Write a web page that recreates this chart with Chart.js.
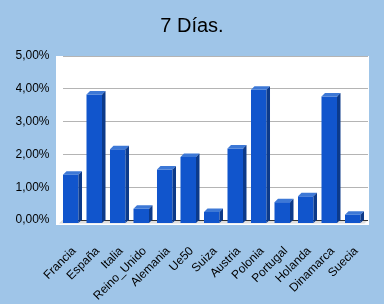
<!DOCTYPE html>
<html>
<head>
<meta charset="utf-8">
<script src="https://cdn.jsdelivr.net/npm/chart.js@4"></script>
<style>
  html, body { margin: 0; padding: 0; background: #9fc5e8; }
  #wrap { width: 384px; height: 304px; }
</style>
</head>
<body>
<div id="wrap"><canvas id="dias"></canvas></div>
<script>
const paises = ["Francia", "España", "Italia", "Reino_Unido", "Alemania", "Ue50", "Suiza",
    "Austria", "Polonia", "Portugal", "Holanda", "Dinamarca", "Suecia"];
const valores = [1.49, 3.93, 2.26, 0.45, 1.65, 2.03, 0.35, 2.29, 4.08, 0.65, 0.83, 3.87, 0.27];
const ticksY = [0, 1, 2, 3, 4, 5];

const DEPTH = 3.5;

// fondo blanco, suelo gris y caras laterales/superiores de las barras
const bars3d = {
    id: 'bars3d',
    beforeDraw(chart) {
        const { ctx, chartArea: a } = chart;
        ctx.save();
        ctx.fillStyle = '#ffffff';
        ctx.fillRect(a.left - 6.5, a.top, a.right - a.left + 7.5, a.bottom - a.top + 5);
        ctx.fillStyle = '#dedede';
        ctx.beginPath();
        ctx.moveTo(a.left, a.bottom);
        ctx.lineTo(a.right, a.bottom);
        ctx.lineTo(a.right - DEPTH, a.bottom + DEPTH);
        ctx.lineTo(a.left - DEPTH, a.bottom + DEPTH);
        ctx.closePath();
        ctx.fill();
        ctx.restore();
    },
    beforeDatasetsDraw(chart) {
        chart.ctx.save();
        chart.ctx.translate(-DEPTH, DEPTH);
    },
    afterDatasetsDraw(chart) {
        const ctx = chart.ctx;
        ctx.restore();
        ctx.save();
        chart.getDatasetMeta(0).data.forEach(function (bar) {
            const p = bar.getProps(['x', 'y', 'base', 'width'], true);
            const x0 = p.x - p.width / 2 - DEPTH, x1 = p.x + p.width / 2 - DEPTH;
            const top = p.y + DEPTH, base = p.base + DEPTH;
            ctx.fillStyle = '#3d78d6';
            ctx.beginPath();
            ctx.moveTo(x0, top);
            ctx.lineTo(x0 + DEPTH, top - DEPTH);
            ctx.lineTo(x1 + DEPTH, top - DEPTH);
            ctx.lineTo(x1, top);
            ctx.closePath();
            ctx.fill();
            ctx.fillStyle = '#0c3a8a';
            ctx.beginPath();
            ctx.moveTo(x1, top);
            ctx.lineTo(x1 + DEPTH, top - DEPTH);
            ctx.lineTo(x1 + DEPTH, base - DEPTH);
            ctx.lineTo(x1, base);
            ctx.closePath();
            ctx.fill();
        });
        ctx.restore();
    }
};

new Chart(document.getElementById('dias'), {
    type: 'bar',
    data: {
        labels: paises,
        datasets: [{
            data: valores,
            backgroundColor: '#1155cc',
            borderWidth: 0,
            barPercentage: 0.66,
            categoryPercentage: 1,
            clip: false,
        }],
    },
    options: {
        responsive: true,
        maintainAspectRatio: false,
        animation: false,
        layout: { padding: { left: 16, right: 16, bottom: 0 } },
        plugins: {
            legend: { display: false },
            tooltip: { enabled: false },
            title: {
                display: true,
                text: '7 Días.',
                color: '#000000',
                font: { family: 'Liberation Sans', size: 20, weight: 'normal' },
                padding: { top: 14, bottom: 18 },
            },
        },
        scales: {
            x: {
                grid: { display: false },
                border: { display: false },
                afterFit(scale) {
                    scale.paddingLeft = 0;
                    scale.paddingRight = 0;
                    scale.height = 84;
                },
                ticks: {
                    color: '#000000',
                    font: { family: 'Liberation Sans', size: 12 },
                    minRotation: 45,
                    maxRotation: 45,
                    autoSkip: false,
                    padding: 16,
                },
            },
            y: {
                min: 0,
                max: 5,
                afterBuildTicks(scale) {
                    scale.ticks = ticksY.map(v => ({ value: v }));
                },
                afterFit(scale) {
                    scale.width = 46.5;
                },
                grid: {
                    drawTicks: false,
                    color: ctx => ctx.tick && ctx.tick.value === 0 ? '#333333' : '#b4b4b4',
                },
                border: { display: false },
                ticks: {
                    color: '#000000',
                    font: { family: 'Liberation Sans', size: 12 },
                    padding: 13,
                    callback: v => v.toFixed(2).replace('.', ',') + '%',
                },
            },
        },
    },
    plugins: [bars3d],
});
</script>
</body>
</html>
